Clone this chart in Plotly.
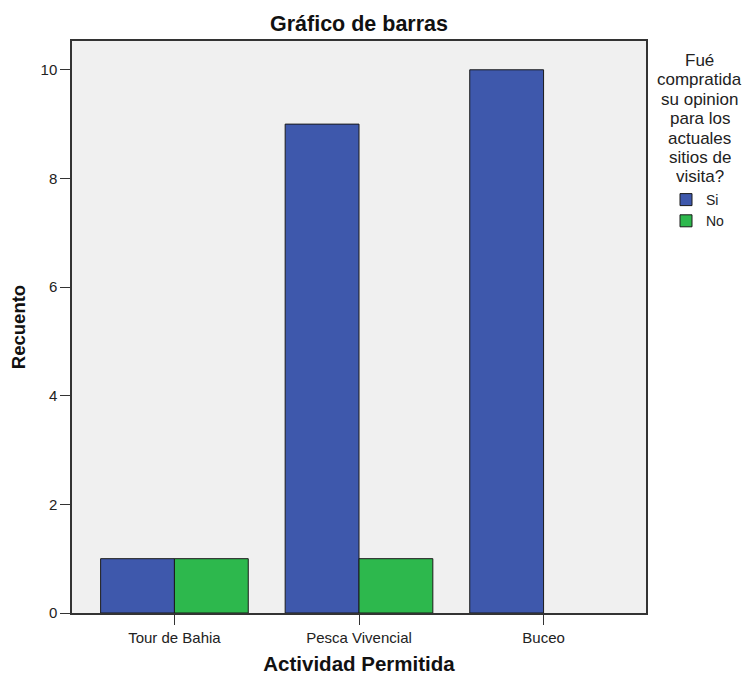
import plotly.graph_objects as go

categories = ["Tour de Bahia", "Pesca Vivencial", "Buceo"]
si_values = [1, 9, 10]
no_values = [1, 1, 0]
y_ticks = [0, 2, 4, 6, 8, 10]
legend_title_lines = ["Fué", "compratida", "su opinion", "para los", "actuales", "sitios de", "visita?"]

fig = go.Figure()
fig.add_trace(go.Bar(name="Si", x=categories, y=si_values,
                     marker=dict(color="#3e58ac", line=dict(color="#1a1a1a", width=1))))
fig.add_trace(go.Bar(name="No", x=categories, y=no_values,
                     marker=dict(color="#2db84d",
                                 line=dict(color="#1a1a1a", width=[1 if v else 0 for v in no_values]))))

fig.update_layout(
    width=747, height=675,
    margin=dict(l=72, r=101, t=41, b=62, autoexpand=False),
    paper_bgcolor="white", plot_bgcolor="#f0f0f0",
    barmode="group", bargap=0.2, bargroupgap=0,
    font=dict(family="Liberation Sans, Arial, sans-serif", color="#222", size=13),
    title=dict(text="<b>Gráfico de barras</b>", x=0.5, xref="paper", xanchor="center",
               y=1 - 23 / 675, yref="container", yanchor="middle",
               font=dict(size=21.5, color="#111")),
    showlegend=True,
    legend=dict(x=(666 - 72) / 574, xanchor="left", y=(613 - 184) / 572, yanchor="top",
                font=dict(size=14, color="#222"), itemwidth=30, tracegroupgap=0,
                bgcolor="rgba(0,0,0,0)"),
    xaxis=dict(range=[-0.555, 2.555], showline=True, linecolor="#333", linewidth=1.5,
               mirror=True, ticks="outside", ticklen=10, tickcolor="#333", automargin=False,
               title=dict(text="<b>Actividad Permitida</b>", font=dict(size=20.5, color="#111"), standoff=12),
               tickfont=dict(size=15)),
    yaxis=dict(range=[0, 10.53], tickvals=y_ticks, showline=True, linecolor="#333", linewidth=1.5,
               mirror=True, ticks="outside", ticklen=10, tickcolor="#333", showgrid=False,
               zeroline=False, automargin=False,
               title=dict(text="<b>Recuento</b>", font=dict(size=18.5, color="#111"), standoff=10),
               tickfont=dict(size=15)),
)

for i, line in enumerate(legend_title_lines):
    fig.add_annotation(
        text=line, xref="paper", yref="paper",
        x=(700 - 72) / 574, y=(613 - (60.5 + i * 19.4)) / 572,
        xanchor="center", yanchor="middle", height=17, borderpad=0,
        showarrow=False, align="center", font=dict(size=17, color="#222"),
    )

fig.write_html("out.html", config={"displayModeBar": False},
               post_script="document.body.style.margin='0';")
